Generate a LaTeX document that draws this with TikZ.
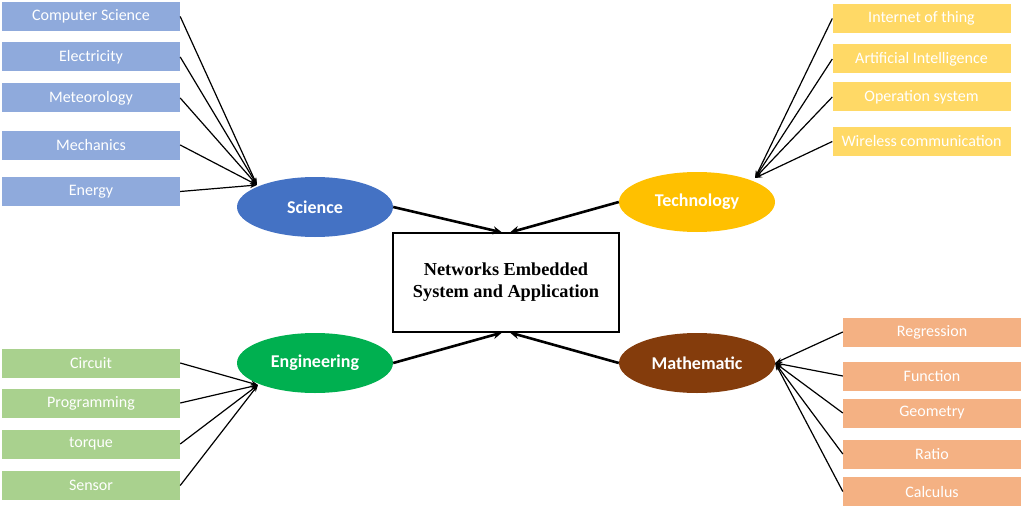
\documentclass[tikz,border=0pt]{standalone}
\usepackage{fontspec}
\setmainfont{Carlito}
\newfontfamily\hubfont{Liberation Serif}
\usetikzlibrary{positioning,arrows.meta,shapes.geometric}
\definecolor{scblue}{RGB}{68,114,196}
\definecolor{scbluelt}{RGB}{143,170,220}
\definecolor{tcyellow}{RGB}{255,192,0}
\definecolor{tcyellowlt}{RGB}{255,217,102}
\definecolor{engreen}{RGB}{0,176,80}
\definecolor{engreenlt}{RGB}{169,209,142}
\definecolor{mabrown}{RGB}{132,60,12}
\definecolor{maorangelt}{RGB}{244,177,131}

\begin{document}
\begin{tikzpicture}[x=1pt, y=-1pt,
    topic/.style={rectangle, minimum width=178pt, minimum height=29pt, inner sep=0pt, text=white, font=\fontsize{16}{19}\selectfont},
    field/.style={ellipse, minimum width=156pt, minimum height=60pt, inner sep=0pt, text=white, font=\bfseries\fontsize{18}{21}\selectfont},
    link/.style={line width=1.2pt, -{Stealth[length=7pt,width=5pt]}},
    mainlink/.style={line width=2.6pt, -{Stealth[length=9pt,width=8pt]}}]
\useasboundingbox (0,0) rectangle (1024,508);

% Centre box
\node[draw, line width=1.2pt, minimum width=226pt, minimum height=99pt, align=center,
      font=\hubfont\bfseries\fontsize{18.3}{22}\selectfont] (hub) at (506,282.5)
      {Networks Embedded\\System and Application};

% Fields
\node[field, fill=scblue] (sci) at (315,207) {Science};
\node[field, fill=tcyellow] (tech) at (697,202) {Technology};
\node[field, fill=engreen] (eng) at (315,363) {Engineering};
\node[field, fill=mabrown] (math) at (697,363) {Mathematic};

% Science topics
\coordinate (sciin) at (257,185);
\foreach \name/\txt/\y in {cs/Computer Science/16.5, elec/Electricity/57, met/Meteorology/98,
                           mech/Mechanics/145, ener/Energy/191.5} {
    \node[topic, fill=scbluelt] (\name) at (91,\y) {\txt};
    \draw[link] (\name.east) -- (sciin);
}

% Technology topics
\coordinate (techin) at (755,178);
\foreach \name/\txt/\y in {iot/Internet of thing/18.5, ai/Artificial Intelligence/59,
                           os/Operation system/97, wire/Wireless communication/141.5} {
    \node[topic, fill=tcyellowlt] (\name) at (921.5,\y) {\txt};
    \draw[link] (\name.west) -- (techin);
}

% Engineering topics
\coordinate (engin) at (258,385);
\foreach \name/\txt/\y in {circ/Circuit/363, prog/Programming/403, torq/torque/444, sens/Sensor/485.5} {
    \node[topic, fill=engreenlt] (\name) at (91,\y) {\txt};
    \draw[link] (\name.east) -- (engin);
}

% Mathematic topics
\foreach \name/\txt/\y in {regr/Regression/332, func/Function/376, geom/Geometry/413,
                           ratio/Ratio/454, calc/Calculus/491.5} {
    \node[topic, fill=maorangelt] (\name) at (932,\y) {\txt};
    \draw[link] (\name.west) -- (math.east);
}

% Fields into the centre
\draw[mainlink] (sci.east) -- ([xshift=-4pt]hub.north);
\draw[mainlink] (tech.west) -- ([xshift=4pt]hub.north);
\draw[mainlink] (eng.east) -- ([xshift=-4pt]hub.south);
\draw[mainlink] (math.west) -- ([xshift=4pt]hub.south);
\end{tikzpicture}
\end{document}
